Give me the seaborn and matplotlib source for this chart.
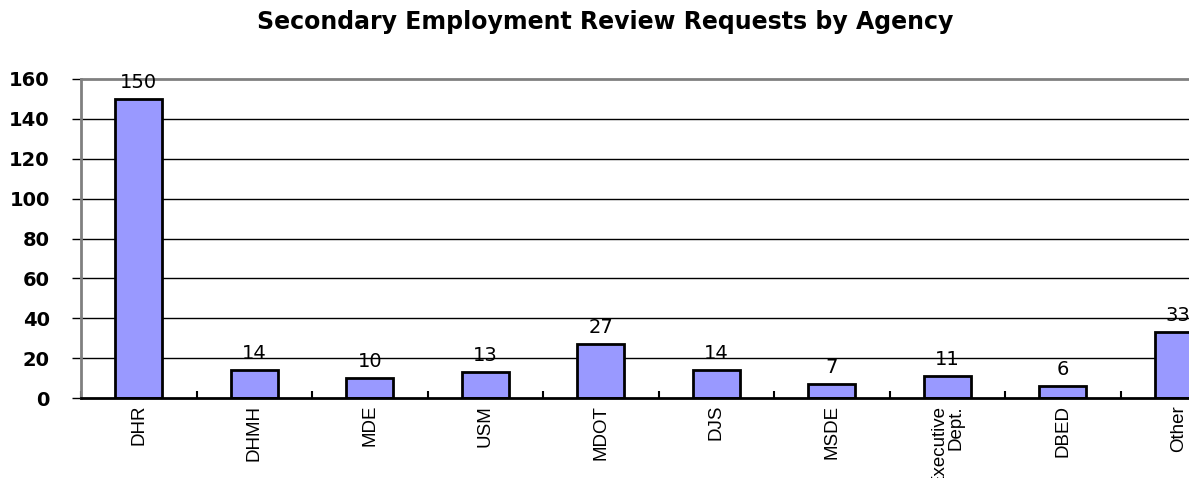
import numpy as np
import pandas as pd
import matplotlib
matplotlib.use("Agg")
import matplotlib.pyplot as plt
import seaborn as sns

# data
agencies = ["DHR", "DHMH", "MDE", "USM", "MDOT", "DJS", "MSDE",
            "Executive\nDept.", "DBED", "Other"]
requests = [150, 14, 10, 13, 27, 14, 7, 11, 6, 33]
y_ticks = [0, 20, 40, 60, 80, 100, 120, 140, 160]

df = pd.DataFrame({"agency": agencies, "requests": requests})

sns.set_style("white")
plt.rcParams["font.family"] = ["Liberation Sans", "DejaVu Sans"]
plt.rcParams["text.color"] = "black"
plt.rcParams["xtick.color"] = "black"
plt.rcParams["ytick.color"] = "black"

fig = plt.figure(figsize=(11.89, 4.78), dpi=100)
ax = fig.add_axes([81 / 1189, 80 / 478, 1155 / 1189, 319 / 478])

sns.barplot(
    data=df,
    x="agency",
    y="requests",
    color="#9999FF",
    saturation=1,
    edgecolor="black",
    linewidth=2,
    width=0.41,
    ax=ax
)

ax.set_xlim(-0.5, len(agencies) - 0.5)
ax.set_ylim(0, 160)
ax.set_yticks(y_ticks)
ax.set_yticklabels([str(v) for v in y_ticks], fontsize=14,
                   fontweight="bold", family="DejaVu Sans")

# gridlines
for v in y_ticks[1:-1]:
    ax.axhline(v, color="black", lw=1, zorder=0)

ax.set_xlabel("")
ax.set_ylabel("")
ax.set_xticks(range(len(agencies)))
ax.set_xticklabels(agencies, rotation=90, fontsize=13.5,
                   multialignment="right", va="top", linespacing=1.0)
ax.set_xticks(np.arange(-0.5, len(agencies), 1), minor=True)
ax.tick_params(axis="x", which="major", length=0, pad=5)
ax.tick_params(axis="x", which="minor", direction="in", length=5,
               width=1.5, bottom=True)
ax.tick_params(axis="y", which="major", direction="out", length=6.5,
               width=1, left=True, pad=16)

for side in ["top", "left"]:
    ax.spines[side].set_color("#808080")
    ax.spines[side].set_linewidth(2)
ax.spines["right"].set_visible(False)
ax.spines["bottom"].set_color("black")
ax.spines["bottom"].set_linewidth(2)

for c in ax.containers:
    ax.bar_label(c, padding=5, fontsize=14, family="DejaVu Sans")

fig.suptitle("Secondary Employment Review Requests by Agency",
             x=605 / 1189, y=1 - 22 / 478, va="center",
             fontsize=17, fontweight="bold", family="DejaVu Sans")

fig.savefig("out.png", dpi=100)
